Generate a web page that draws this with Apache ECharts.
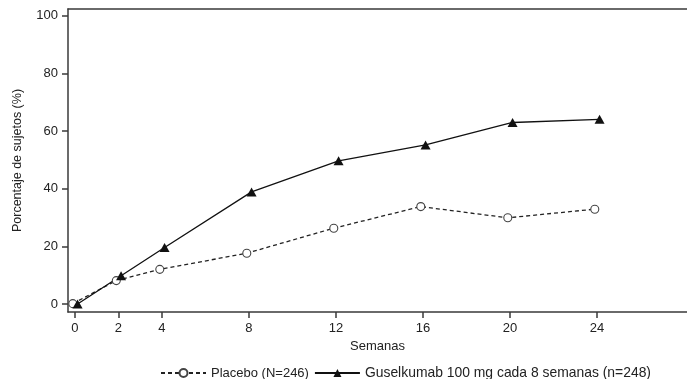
<!DOCTYPE html>
<html>
<head>
<meta charset="utf-8">
<script src="https://cdn.jsdelivr.net/npm/echarts@6/dist/echarts.min.js"></script>
<style>html,body{margin:0;padding:0;background:#fff}#c{width:687px;height:379px}</style>
</head>
<body>
<div id="c"></div>
<script>
var weeks = [0, 2, 4, 8, 12, 16, 20, 24];
var placebo = [0.1, 8.1, 12.0, 17.6, 26.3, 33.8, 29.9, 32.9];
var guselkumab = [0, 9.8, 19.6, 38.9, 49.7, 55.2, 63.0, 64.1];
var xTicks = [0, 2, 4, 8, 12, 16, 20, 24];
var yTicks = [0, 20, 40, 60, 80, 100];
var seriesNames = ['Placebo (N=246)', 'Guselkumab 100 mg cada 8 semanas (n=248)'];

function pts(vals, off) {
  return weeks.map(function (w, i) { return [w + off, vals[i]]; });
}
var font = 'Liberation Sans, Arial, sans-serif';
var axisCol = '#3a3a3a';
var chart = echarts.init(document.getElementById('c'), null, {renderer: 'canvas'});
chart.setOption({
  animation: false,
  backgroundColor: '#fff',
  grid: {left: 68, right: 0, top: 9, bottom: 67, containLabel: false},
  legend: {
    left: 155, top: 361, itemGap: 5, itemWidth: 45, itemHeight: 10,
    textStyle: {fontFamily: font, fontSize: 13, color: '#222',
      rich: {a: {fontFamily: font, fontSize: 13, color: '#222', lineHeight: 16},
             b: {fontFamily: font, fontSize: 13.9, color: '#222', lineHeight: 16}}},
    formatter: function (n) { return (n === seriesNames[0] ? '{a|' : '{b|') + n + '}'; },
    data: seriesNames
  },
  xAxis: [{
    type: 'value', min: -0.32, max: 28.14, position: 'bottom',
    name: 'Semanas', nameLocation: 'middle', nameGap: 28,
    nameTextStyle: {fontFamily: font, fontSize: 13, color: '#222'},
    axisLine: {show: true, onZero: false, lineStyle: {color: axisCol, width: 1.5}},
    axisTick: {show: true, length: 6, customValues: xTicks, lineStyle: {color: axisCol, width: 1.5}},
    axisLabel: {customValues: xTicks, fontFamily: font, fontSize: 13, color: '#222', margin: 10},
    splitLine: {show: false}
  }, {
    type: 'value', min: -0.32, max: 28.14, position: 'top',
    axisLine: {show: true, onZero: false, lineStyle: {color: axisCol, width: 1.5}},
    axisTick: {show: false}, axisLabel: {show: false}, splitLine: {show: false}
  }],
  yAxis: {
    type: 'value', min: -2.8, max: 102.4,
    name: 'Porcentaje de sujetos (%)', nameLocation: 'middle', nameGap: 44,
    nameTextStyle: {fontFamily: font, fontSize: 12.5, color: '#222'},
    axisLine: {show: true, onZero: false, lineStyle: {color: axisCol, width: 1.5}},
    axisTick: {show: true, length: 6, customValues: yTicks, lineStyle: {color: axisCol, width: 1.5}},
    axisLabel: {customValues: yTicks, fontFamily: font, fontSize: 13, color: '#222', margin: 10},
    splitLine: {show: false}
  },
  series: [{
    name: seriesNames[0], type: 'line', data: pts(placebo, -0.1),
    symbol: 'circle', symbolSize: 8,
    lineStyle: {color: '#222', width: 1.3, type: [4, 3]},
    itemStyle: {color: '#fff', borderColor: '#444', borderWidth: 1.1}
  }, {
    name: seriesNames[1], type: 'line', data: pts(guselkumab, 0.12),
    symbol: 'triangle', symbolSize: [10, 9],
    lineStyle: {color: '#111', width: 1.3},
    itemStyle: {color: '#111', borderColor: '#111', borderWidth: 0}
  }]
});
</script>
</body>
</html>
